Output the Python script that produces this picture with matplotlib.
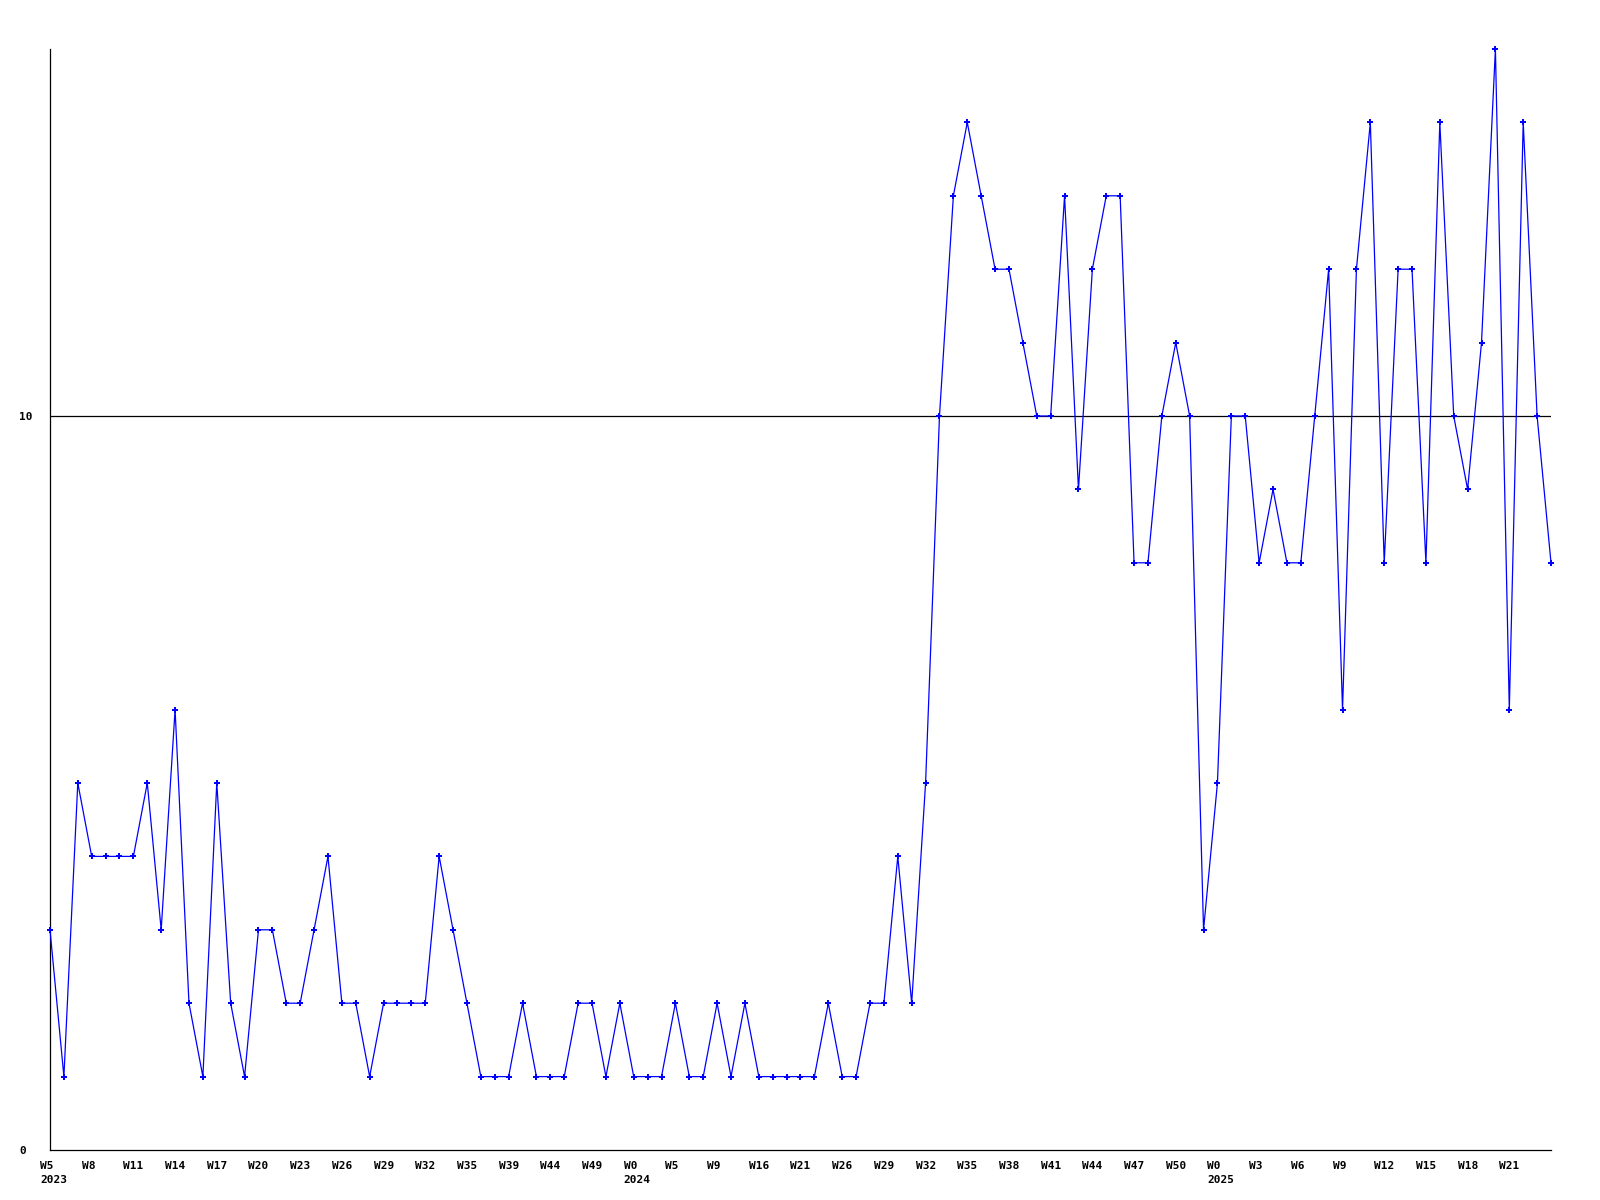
import matplotlib
matplotlib.use("Agg")
import matplotlib.pyplot as plt
from matplotlib.transforms import ScaledTranslation

values = [3, 1, 5, 4, 4, 4, 4, 5, 3, 6,
          2, 1, 5, 2, 1, 3, 3, 2, 2, 3,
          4, 2, 2, 1, 2, 2, 2, 2, 4, 3,
          2, 1, 1, 1, 2, 1, 1, 1, 2, 2,
          1, 2, 1, 1, 1, 2, 1, 1, 2, 1,
          2, 1, 1, 1, 1, 1, 2, 1, 1, 2,
          2, 4, 2, 5, 10, 13, 14, 13, 12, 12,
          11, 10, 10, 13, 9, 12, 13, 13, 8, 8,
          10, 11, 10, 3, 5, 10, 10, 8, 9, 8,
          8, 10, 12, 6, 12, 14, 8, 12, 12, 8,
          14, 10, 9, 11, 15, 6, 14, 10, 8]

week_labels = ["W5", "W8", "W11", "W14", "W17", "W20", "W23", "W26", "W29",
               "W32", "W35", "W39", "W44", "W49", "W0", "W5", "W9", "W16",
               "W21", "W26", "W29", "W32", "W35", "W38", "W41", "W44", "W47",
               "W50", "W0", "W3", "W6", "W9", "W12", "W15", "W18", "W21"]
year_labels = {0: "2023", 14: "2024", 28: "2025"}
label_step = 3
y_ticks = [0, 10]

fig = plt.figure(figsize=(16, 12), dpi=100)
ax = fig.add_axes([50 / 1600, 1 - 1150 / 1200, 1501 / 1600, 1101 / 1200])

x = list(range(len(values)))
ax.plot(x, values, color="#0000ff", linewidth=0.9, marker="P",
        markersize=5, markeredgewidth=0, zorder=3, clip_on=False)
ax.axhline(10, color="black", linewidth=0.9, zorder=2)

ax.set_xlim(0, len(values) - 1)
ax.set_ylim(0, 15)

for s in ("top", "right"):
    ax.spines[s].set_visible(False)
for s in ("left", "bottom"):
    ax.spines[s].set_linewidth(0.9)
    ax.spines[s].set_color("black")

font = dict(family="DejaVu Sans Mono", weight="bold", size=8)

ticks = [i * label_step for i in range(len(week_labels))]
labels = []
for i, w in enumerate(week_labels):
    labels.append(w + ("\n" + year_labels[i] if i in year_labels else ""))
ax.set_xticks(ticks)
ax.set_xticklabels(labels, ha="left", linespacing=1.45, **font)
ax.tick_params(axis="x", length=0, pad=8)
offset = ScaledTranslation(-10 / 100, 0, fig.dpi_scale_trans)
for lab in ax.get_xticklabels():
    lab.set_transform(lab.get_transform() + offset)
    lab.set_verticalalignment("top")

ax.set_yticks(y_ticks)
ax.set_yticklabels([str(v) for v in y_ticks], ha="left", **font)
ax.tick_params(axis="y", length=0, pad=22)

fig.savefig("out.png", dpi=100)
